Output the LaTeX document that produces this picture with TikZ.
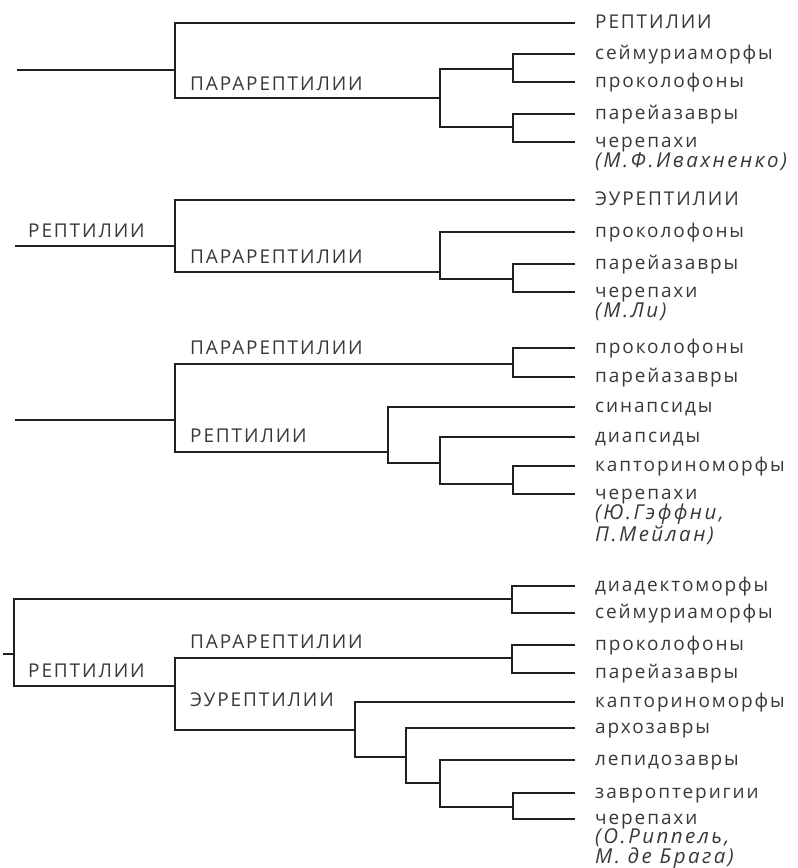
\documentclass[tikz,border=0pt]{standalone}
\usepackage{fontspec}
\newfontfamily\taxfont[LetterSpace=10]{Open Sans}
\newfontfamily\authfont[LetterSpace=12]{Open Sans}
\usetikzlibrary{positioning}

\definecolor{inkline}{HTML}{231F20}
\definecolor{inktext}{HTML}{383838}

\tikzset{
  taxon/.style={anchor=west, inner sep=0pt, text height=10pt, text depth=0pt,
    text=inktext, font=\taxfont\fontsize{19pt}{19pt}\selectfont},
  clade/.style={anchor=base west, inner sep=0pt,
    text=inktext, font=\taxfont\fontsize{19pt}{19pt}\selectfont},
  authors/.style={anchor=base west, inner sep=0pt, align=left,
    text=inktext, font=\authfont\itshape\fontsize{20.5pt}{20pt}\selectfont},
  branch/.style={draw=inkline, line width=2.5pt},
}

\begin{document}
\begin{tikzpicture}[x=1pt, y=-1pt]
    \useasboundingbox (0,0) rectangle (798,868);

    % Define nodes -- Ivakhnenko
    \coordinate (r1)  at (17,70);
    \coordinate (k1)  at (175,70);
    \coordinate (k1b) at (440,98);
    \coordinate (k1c) at (513,69);
    \coordinate (k1d) at (513,127);
    \node[taxon]   (t1a) at (595,23)  {РЕПТИЛИИ};
    \node[taxon]   (t1b) at (595,54)  {сеймуриаморфы};
    \node[taxon]   (t1c) at (595,82)  {проколофоны};
    \node[taxon]   (t1d) at (595,114) {парейазавры};
    \node[taxon]   (t1e) at (595,142) {черепахи};
    \node[authors] (w1) at ([yshift=-20pt]t1e.base west) {(М.Ф.Ивахненко)};
    \node[clade]   (c1a) at (190,90)  {ПАРАРЕПТИЛИИ};

    % Define nodes -- Lee
    \coordinate (r2)  at (15,246);
    \coordinate (k2)  at (175,246);
    \coordinate (k2b) at (440,272);
    \coordinate (k2c) at (513,279);
    \node[taxon]   (t2a) at (595,200) {ЭУРЕПТИЛИИ};
    \node[taxon]   (t2b) at (595,232) {проколофоны};
    \node[taxon]   (t2c) at (595,264) {парейазавры};
    \node[taxon]   (t2d) at (595,292) {черепахи};
    \node[authors] (w2) at ([yshift=-20pt]t2d.base west) {(М.Ли)};
    \node[clade]   (c2a) at (28,237)  {РЕПТИЛИИ};
    \node[clade]   (c2b) at (190,263) {ПАРАРЕПТИЛИИ};

    % Define nodes -- Gaffney, Meylan
    \coordinate (r3)  at (15,420);
    \coordinate (k3)  at (175,420);
    \coordinate (k3a) at (513,364);
    \coordinate (k3b) at (388,452);
    \coordinate (k3c) at (440,463);
    \coordinate (k3d) at (513,484);
    \node[taxon]   (t3a) at (595,348) {проколофоны};
    \node[taxon]   (t3b) at (595,377) {парейазавры};
    \node[taxon]   (t3c) at (595,407) {синапсиды};
    \node[taxon]   (t3d) at (595,437) {диапсиды};
    \node[taxon]   (t3e) at (595,466) {капториноморфы};
    \node[taxon]   (t3f) at (595,494) {черепахи};
    \node[authors] (w3) at ([yshift=-42pt]t3f.base west) {(Ю.Гэффни,\\П.Мейлан)};
    \node[clade]   (c3a) at (190,354) {ПАРАРЕПТИЛИИ};
    \node[clade]   (c3b) at (190,442) {РЕПТИЛИИ};

    % Define nodes -- Rieppel, deBraga
    \coordinate (r4)  at (3,654);
    \coordinate (k4)  at (14,654);
    \coordinate (k4a) at (512,599);
    \coordinate (k4b) at (175,686);
    \coordinate (k4c) at (512,658);
    \coordinate (k4d) at (355,730);
    \coordinate (k4e) at (406,757);
    \coordinate (k4f) at (440,783);
    \coordinate (k4g) at (513,807);
    \node[taxon]   (t4a) at (595,586) {диадектоморфы};
    \node[taxon]   (t4b) at (595,613) {сеймуриаморфы};
    \node[taxon]   (t4c) at (595,645) {проколофоны};
    \node[taxon]   (t4d) at (595,673) {парейазавры};
    \node[taxon]   (t4e) at (595,702) {капториноморфы};
    \node[taxon]   (t4f) at (595,728) {архозавры};
    \node[taxon]   (t4g) at (595,760) {лепидозавры};
    \node[taxon]   (t4h) at (595,793) {завроптеригии};
    \node[taxon]   (t4i) at (595,819) {черепахи};
    \node[authors] (w4) at ([yshift=-39pt]t4i.base west) {(О.Риппель,\\М. де Брага)};
    \node[clade]   (c4a) at (28,677)  {РЕПТИЛИИ};
    \node[clade]   (c4b) at (190,648) {ПАРАРЕПТИЛИИ};
    \node[clade]   (c4c) at (190,706) {ЭУРЕПТИЛИИ};

    % Connect the nodes
    \draw[branch] (r1) -- (k1);
    \draw[branch] ([xshift=-20pt]t1a.west) -| (k1) |- (k1b);
    \draw[branch] (k1c) -| (k1b) |- (k1d);
    \draw[branch] ([xshift=-20pt]t1b.west) -| (k1c) |- ([xshift=-20pt]t1c.west);
    \draw[branch] ([xshift=-20pt]t1d.west) -| (k1d) |- ([xshift=-20pt]t1e.west);

    \draw[branch] (r2) -- (k2);
    \draw[branch] ([xshift=-20pt]t2a.west) -| (k2) |- (k2b);
    \draw[branch] ([xshift=-20pt]t2b.west) -| (k2b) |- (k2c);
    \draw[branch] ([xshift=-20pt]t2c.west) -| (k2c) |- ([xshift=-20pt]t2d.west);

    \draw[branch] (r3) -- (k3);
    \draw[branch] (k3a) -| (k3) |- (k3b);
    \draw[branch] ([xshift=-20pt]t3a.west) -| (k3a) |- ([xshift=-20pt]t3b.west);
    \draw[branch] ([xshift=-20pt]t3c.west) -| (k3b) |- (k3c);
    \draw[branch] ([xshift=-20pt]t3d.west) -| (k3c) |- (k3d);
    \draw[branch] ([xshift=-20pt]t3e.west) -| (k3d) |- ([xshift=-20pt]t3f.west);

    \draw[branch] (r4) -- (k4);
    \draw[branch] (k4a) -| (k4) |- (k4b);
    \draw[branch] ([xshift=-20pt]t4a.west) -| (k4a) |- ([xshift=-20pt]t4b.west);
    \draw[branch] (k4c) -| (k4b) |- (k4d);
    \draw[branch] ([xshift=-20pt]t4c.west) -| (k4c) |- ([xshift=-20pt]t4d.west);
    \draw[branch] ([xshift=-20pt]t4e.west) -| (k4d) |- (k4e);
    \draw[branch] ([xshift=-20pt]t4f.west) -| (k4e) |- (k4f);
    \draw[branch] ([xshift=-20pt]t4g.west) -| (k4f) |- (k4g);
    \draw[branch] ([xshift=-20pt]t4h.west) -| (k4g) |- ([xshift=-20pt]t4i.west);

  \end{tikzpicture}
\end{document}
